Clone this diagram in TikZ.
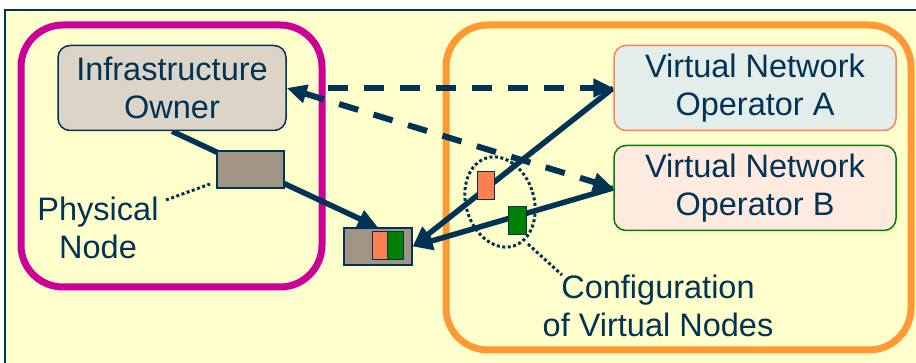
\documentclass[tikz,border=0pt]{standalone}
\usepackage{fontspec}
\setmainfont{Liberation Sans}
\usetikzlibrary{arrows.meta,calc}
\definecolor{bgy}{HTML}{FFFFCC}
\definecolor{navy}{HTML}{003355}
\definecolor{purp}{HTML}{CC0099}
\definecolor{orng}{HTML}{FF9933}
\definecolor{iofill}{HTML}{DCD4C6}
\definecolor{physfill}{HTML}{A09484}
\definecolor{afill}{HTML}{E3EDEA}
\definecolor{aedge}{HTML}{FF8060}
\definecolor{bfill}{HTML}{FFEAE0}
\definecolor{gedge}{HTML}{008000}
\definecolor{coral}{HTML}{FF7F50}
\pgfdeclarelayer{bg}\pgfdeclarelayer{mid}\pgfsetlayers{bg,mid,main}
\tikzset{
  txt/.style={text=navy, font=\fontsize{32.5}{38}\selectfont, align=center},
  rbox/.style={txt, rounded corners=12pt, line width=1.5pt, minimum height=85pt, inner sep=0pt},
  pnode/.style={draw=navy, fill=physfill, line width=1.3pt, inner sep=0pt},
  vnode/.style={draw=navy, line width=1pt, inner sep=0pt, minimum width=17pt, minimum height=28pt},
  solidarr/.style={draw=navy, line width=5.5pt, -{Triangle[length=20pt,width=18pt]}},
  dasharr/.style={draw=navy, line width=6pt, dash pattern=on 20pt off 16pt},
  dottedcon/.style={draw=navy, line width=3pt, dash pattern=on 3pt off 2.5pt},
  frame/.style={rounded corners=42pt, line width=7pt}
}
\begin{document}
\begin{tikzpicture}[x=1pt,y=-1pt]
\useasboundingbox (0,0) rectangle (916,363);
% nodes
\node[rbox, draw=navy, fill=iofill, minimum width=228pt] (io) at (172,88) {Infrastructure\\Owner};
\node[rbox, draw=aedge, fill=afill, minimum width=282pt] (vnoa) at (755,88) {Virtual Network\\Operator A};
\node[rbox, draw=gedge, fill=bfill, minimum width=282pt] (vnob) at (755,188) {Virtual Network\\Operator B};
\node[pnode, minimum width=67pt, minimum height=37pt] (phys) at (250.5,169.5) {};
\node[pnode, minimum width=68pt, minimum height=37pt] (small) at (378,246.5) {};
\node[vnode, fill=coral, minimum width=15pt] (so) at (379.5,245.5) {};
\node[vnode, fill=gedge, minimum width=16pt] (sg) at (395,245.5) {};
\node[vnode, fill=coral] (vo) at (485.5,186) {};
\node[vnode, fill=gedge, minimum width=18pt] (vg) at (517,221) {};
\node[txt] (plabel) at (98,228) {Physical\\Node};
\node[txt] (clabel) at (658,306) {Configuration\\of Virtual Nodes};
\coordinate (pdotA) at (166,200);
\coordinate (pdotB) at (210,184);
\coordinate (edotA) at (528,244);
\coordinate (edotB) at (562,275);
\begin{pgfonlayer}{bg}
  \fill[bgy] (5,10) rectangle (916,363);
  \draw[navy, line width=2pt] (5,363) -- (5,10) -- (916,10);
  \draw[frame, draw=purp] (21,25) rectangle (322,287);
  \draw[frame, draw=orng] (446,25) rectangle (911,350);
\end{pgfonlayer}
\begin{pgfonlayer}{mid}
  \draw[solidarr] (io.south) -- (small.north);
  \draw[solidarr] (vnoa.west) -- (small.east);
  \draw[solidarr] (vnob.west) -- (small.east);
  \draw[dasharr, -{Triangle[length=20pt,width=18pt]}, shorten <=41pt] (io.east) -- (vnoa.west);
  \draw[dasharr, {Triangle[length=20pt,width=18pt]}-{Triangle[length=20pt,width=18pt]}] (io.east) -- (vnob.west);
  \draw[dottedcon] (pdotA) -- (pdotB);
  \draw[dottedcon] (edotA) -- (edotB);
  \draw[dottedcon, rotate around={17:(500,202)}] (500,202) ellipse [x radius=34, y radius=46];
\end{pgfonlayer}
\end{tikzpicture}
\end{document}
